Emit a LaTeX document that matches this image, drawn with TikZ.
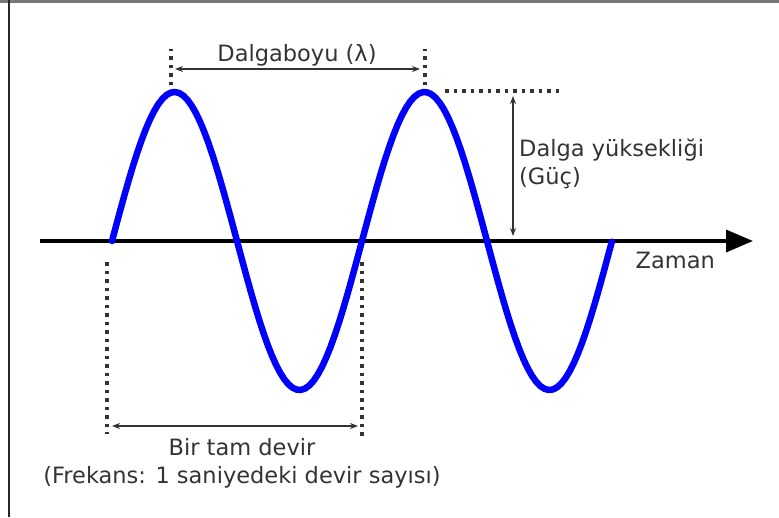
\documentclass[tikz,border=0pt]{standalone}
\usepackage{fontspec}
\setmainfont{DejaVu Sans}
\usepackage{tikz}
\usetikzlibrary{arrows.meta,positioning,calc}
\definecolor{ink}{HTML}{333333}
\definecolor{waveblue}{HTML}{0000FF}
\definecolor{framegray}{HTML}{777777}
\tikzset{
  wavecurve/.style={
    draw=waveblue, line width=6.5pt, line cap=round, line join=round
  },
  axisline/.style={
    -{Triangle[length=27pt, width=22pt]}, line width=3.5pt, color=black
  },
  dimarrow/.style={
    {Stealth[length=8pt, width=6pt]}-{Stealth[length=8pt, width=6pt]},
    line width=1.5pt, color=ink
  },
  dotline/.style={
    line width=3.3pt, color=ink, dash pattern=on 3.5pt off 5pt
  },
  labelnode/.style={
    font=\fontsize{22.5}{27.5}\selectfont, color=ink, inner sep=0pt
  },
}

\begin{document}
\begin{tikzpicture}[x=1pt, y=-1pt]

  \useasboundingbox (0,0) rectangle (779,517);

  % Frame of the screenshot (top and left edges only)
  \draw[framegray, line width=3pt] (0,1.5) -- (779,1.5);
  \draw[black!85, line width=2pt] (9,0) -- (9,517);

  % Time axis with big arrow head
  \coordinate (axisL) at (40,241);
  \coordinate (axisR) at (753,241);
  \draw[axisline] (axisL) -- (axisR);
  \node[labelnode, anchor=base east] (zaman) at (715,268) {Zaman};

  % Two full periods of the wave
  \draw[wavecurve] plot[domain=0:2, samples=120]
    ({112+250*\x}, {241-149*sin(360*\x)});

  % Wave length: peak to peak
  \coordinate (peakA) at (171,85);
  \coordinate (peakB) at (425,85);
  \draw[dotline] (peakA) -- ++(0,-36);
  \draw[dotline] (peakB) -- ++(0,-36);
  \coordinate (lamL) at (175,69);
  \coordinate (lamR) at (420,69);
  \draw[dimarrow] (lamL) -- (lamR);
  \node[labelnode, anchor=base] (lambda) at (297,61) {Dalgaboyu (λ)};

  % Wave height: top of peak down to axis
  \coordinate (topL) at (445,91);
  \coordinate (topR) at (560,91);
  \draw[dotline] (topL) -- (topR);
  \coordinate (ampT) at (513,96);
  \coordinate (ampB) at (513,236);
  \draw[dimarrow] (ampT) -- (ampB);
  \node[labelnode, anchor=base west, align=left] (height) at (519,184)
    {Dalga yüksekliği\\(Güç)};

  % One full cycle: zero crossing to zero crossing
  \coordinate (cycL) at (107,262);
  \coordinate (cycR) at (362,262);
  \draw[dotline] (cycL) -- ++(0,172);
  \draw[dotline] (cycR) -- ++(0,176);
  \coordinate (perL) at (112,426);
  \coordinate (perR) at (358,426);
  \draw[dimarrow] (perL) -- (perR);
  \node[labelnode, anchor=base, align=center] (cycle) at (242,483)
    {Bir tam devir\\(Frekans: 1 saniyedeki devir sayısı)};

\end{tikzpicture}
\end{document}
